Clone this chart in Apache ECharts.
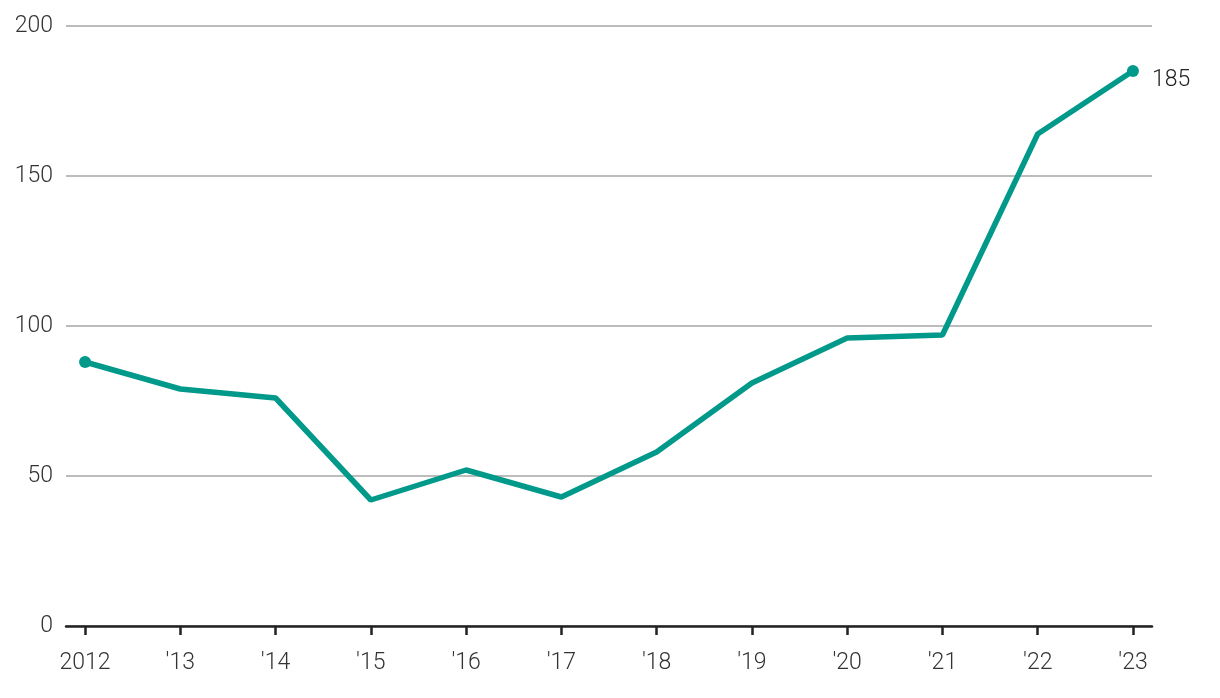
<!DOCTYPE html>
<html><head><meta charset="utf-8">
<script src="https://cdn.jsdelivr.net/npm/echarts@6/dist/echarts.min.js"></script>
<style>html,body{margin:0;padding:0;background:#fff}#c{width:1220px;height:698px}</style>
</head><body><div id="c"></div>
<script>
const years = [2012,2013,2014,2015,2016,2017,2018,2019,2020,2021,2022,2023];
const yearLabels = ['2012',"'13","'14","'15","'16","'17","'18","'19","'20","'21","'22","'23"];
const values = [88,79,76,42,52,43,58,81,96,97,164,185];
const yTicks = [0,50,100,150,200];

const chart = echarts.init(document.getElementById('c'));
const font = 'Roboto';
const data = years.map((y,i)=>{
  const p = {value:[y,values[i]]};
  if (i===0 || i===years.length-1) {
    p.symbol='circle'; p.symbolSize=12;
  }
  if (i===years.length-1) {
    p.label={show:true, position:'right', distance:13, offset:[0,9], formatter:String(values[i]), color:'#222', fontFamily:font, fontSize:23, fontWeight:300};
  }
  return p;
});
chart.setOption({
  animation:false,
  grid:{left:66, right:68, top:26, bottom:72, containLabel:false},
  xAxis:{type:'value', min:2011.8, max:2023.2,
    axisLine:{show:true, onZero:false, lineStyle:{color:'#222', width:2.5}},
    axisTick:{show:true, length:9, lineStyle:{color:'#222', width:2.5}, customValues:years},
    axisLabel:{color:'#333', fontFamily:font, fontSize:23, fontWeight:300, margin:26,
      customValues:years, formatter:v=>yearLabels[years.indexOf(Math.round(v))]},
    splitLine:{show:false}},
  yAxis:{type:'value', min:0, max:200, interval:50,
    axisLine:{show:false}, axisTick:{show:false},
    axisLabel:{color:'#333', fontFamily:font, fontSize:23, fontWeight:300, margin:13,
      formatter:v=>yTicks.includes(v)?String(v):''},
    splitLine:{show:true, lineStyle:{color:'#a6a6a6', width:1.5}}},
  series:[{type:'line', data:data, showSymbol:true, symbol:'none',
    lineStyle:{color:'#00998a', width:5.5}, itemStyle:{color:'#00998a'}, z:5}]
});
</script></body></html>
